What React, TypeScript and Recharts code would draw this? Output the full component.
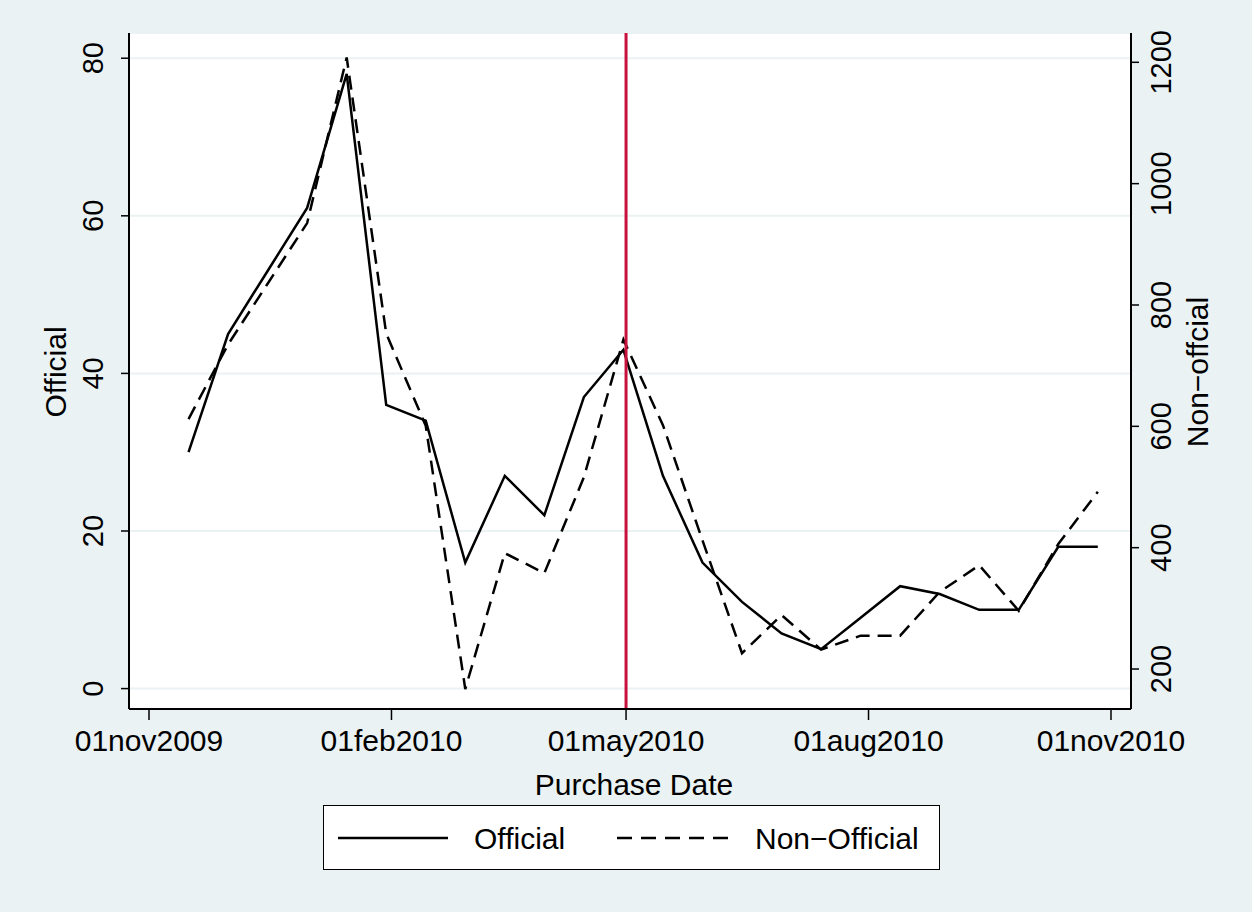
import React from 'react'
import {
  LineChart,
  Line,
  XAxis,
  YAxis,
  CartesianGrid,
  ReferenceLine,
  Label,
} from 'recharts'

// purchase dates (15-day bins)
const DATES = [
  '2009-11-16', '2009-12-01', '2009-12-16', '2009-12-31', '2010-01-15', '2010-01-30',
  '2010-02-14', '2010-03-01', '2010-03-16', '2010-03-31', '2010-04-15', '2010-04-30',
  '2010-05-15', '2010-05-30', '2010-06-14', '2010-06-29', '2010-07-14', '2010-07-29',
  '2010-08-13', '2010-08-28', '2010-09-12', '2010-09-27', '2010-10-12', '2010-10-27',
]

const OFFICIAL = [30, 45, 53, 61, 78, 36, 34, 16, 27, 22, 37, 43, 27, 16, 11, 7, 5, 9, 13, 12, 10, 10, 18, 18]

const NON_OFFICIAL = [
  612, 735, 835, 935, 1208, 753, 601, 167, 391, 358, 516, 743,
  602, 412, 226, 289, 232, 255, 255, 327, 371, 296, 406, 492,
]

const X_TICK_DATES = ['2009-11-01', '2010-02-01', '2010-05-01', '2010-08-01', '2010-11-01']
const X_TICK_LABELS = ['01nov2009', '01feb2010', '01may2010', '01aug2010', '01nov2010']
const LEFT_TICKS = [0, 20, 40, 60, 80]
const RIGHT_TICKS = [200, 400, 600, 800, 1000, 1200]
const MARKER_DATE = '2010-05-01'

const FONT = '"Liberation Sans", Arial, Helvetica, sans-serif'
const BG = '#eaf2f3'

const BASE = Date.UTC(2009, 10, 1)
const dayOf = (iso: string) => {
  const [y, m, d] = iso.split('-').map(Number)
  return (Date.UTC(y, m - 1, d) - BASE) / 86400000
}

const data = DATES.map((d, i) => ({
  day: dayOf(d),
  official: OFFICIAL[i],
  nonOfficial: NON_OFFICIAL[i],
}))

const xTicks = X_TICK_DATES.map(dayOf)

const XTick = (p: any) => {
  const i = xTicks.indexOf(p.payload.value)
  return (
    <text x={p.x} y={p.y} dy={29} textAnchor="middle" fontSize={30} fontFamily={FONT} fill="#000">
      {X_TICK_LABELS[i]}
    </text>
  )
}

const YTickLeft = (p: any) => {
  const cx = p.x - 24
  return (
    <text
      x={cx}
      y={p.y}
      transform={`rotate(-90 ${cx} ${p.y})`}
      textAnchor="middle"
      dominantBaseline="central"
      fontSize={29}
      fontFamily={FONT}
      fill="#000"
    >
      {p.payload.value}
    </text>
  )
}

const YTickRight = (p: any) => {
  const cx = p.x + 18
  return (
    <text
      x={cx}
      y={p.y}
      transform={`rotate(-90 ${cx} ${p.y})`}
      textAnchor="middle"
      dominantBaseline="central"
      fontSize={29}
      fontFamily={FONT}
      fill="#000"
    >
      {p.payload.value}
    </text>
  )
}

const rotTitle = (text: string, x: number, y: number) => () => (
  <text
    x={x}
    y={y}
    transform={`rotate(-90 ${x} ${y})`}
    textAnchor="middle"
    dominantBaseline="central"
    fontSize={30}
    fontFamily={FONT}
    fill="#000"
  >
    {text}
  </text>
)

function ChartLegend() {
  return (
    <div
      style={{
        position: 'absolute',
        left: 323,
        top: 805,
        width: 617,
        height: 65,
        boxSizing: 'border-box',
        border: '1.5px solid #000',
        background: '#fff',
      }}
    >
      <svg width={614} height={62} style={{ position: 'absolute', left: 0, top: 0 }}>
        <line x1={14} x2={124} y1={32} y2={32} stroke="#000" strokeWidth={2.5} />
        <text x={150} y={43} fontSize={30} fontFamily={FONT} fill="#000">
          Official
        </text>
        <line x1={293} x2={404} y1={32} y2={32} stroke="#000" strokeWidth={2.5} strokeDasharray="15 9" />
        <text x={431} y={43} fontSize={30} fontFamily={FONT} fill="#000">
          Non−Official
        </text>
      </svg>
    </div>
  )
}

export default function App() {
  return (
    <div
      style={{
        position: 'absolute',
        left: 0,
        top: 0,
        width: 1252,
        height: 912,
        background: BG,
        fontFamily: FONT,
      }}
    >
      <LineChart width={1252} height={912} data={data} margin={{ top: 33, right: 0, bottom: 113, left: 0 }}>
        <CartesianGrid
          yAxisId="left"
          vertical={false}
          stroke={BG}
          strokeWidth={2}
          fill="#fff"
          fillOpacity={1}
        />
        <XAxis
          dataKey="day"
          type="number"
          domain={[-7.59, 372.59]}
          ticks={xTicks}
          allowDataOverflow
          height={90}
          tick={<XTick />}
          tickSize={11}
          tickMargin={2}
          axisLine={{ stroke: '#000', strokeWidth: 2 }}
          tickLine={{ stroke: '#000', strokeWidth: 1.5 }}
        >
          <Label
            content={() => (
              <text x={634} y={795} textAnchor="middle" fontSize={30} fontFamily={FONT} fill="#000">
                Purchase Date
              </text>
            )}
          />
        </XAxis>
        <YAxis
          yAxisId="left"
          orientation="left"
          width={129}
          domain={[-2.59, 83.2]}
          ticks={LEFT_TICKS}
          allowDataOverflow
          tick={<YTickLeft />}
          tickSize={8}
          tickMargin={4}
          axisLine={{ stroke: '#000', strokeWidth: 2 }}
          tickLine={{ stroke: '#000', strokeWidth: 1.5 }}
        >
          <Label content={rotTitle('Official', 55, 372)} />
        </YAxis>
        <YAxis
          yAxisId="right"
          orientation="right"
          width={121}
          domain={[134.1, 1248.3]}
          ticks={RIGHT_TICKS}
          allowDataOverflow
          tick={<YTickRight />}
          tickSize={8}
          tickMargin={4}
          axisLine={{ stroke: '#000', strokeWidth: 2 }}
          tickLine={{ stroke: '#000', strokeWidth: 1.5 }}
        >
          <Label content={rotTitle('Non−offcial', 1197, 372)} />
        </YAxis>
        <Line
          yAxisId="left"
          type="linear"
          dataKey="official"
          stroke="#000"
          strokeWidth={2.5}
          dot={false}
          activeDot={false}
          isAnimationActive={false}
        />
        <Line
          yAxisId="right"
          type="linear"
          dataKey="nonOfficial"
          stroke="#000"
          strokeWidth={2.5}
          strokeDasharray="14 8"
          dot={false}
          activeDot={false}
          isAnimationActive={false}
        />
        <ReferenceLine yAxisId="left" x={dayOf(MARKER_DATE)} stroke="#c8103c" strokeWidth={3} />
      </LineChart>
      <ChartLegend />
    </div>
  )
}
